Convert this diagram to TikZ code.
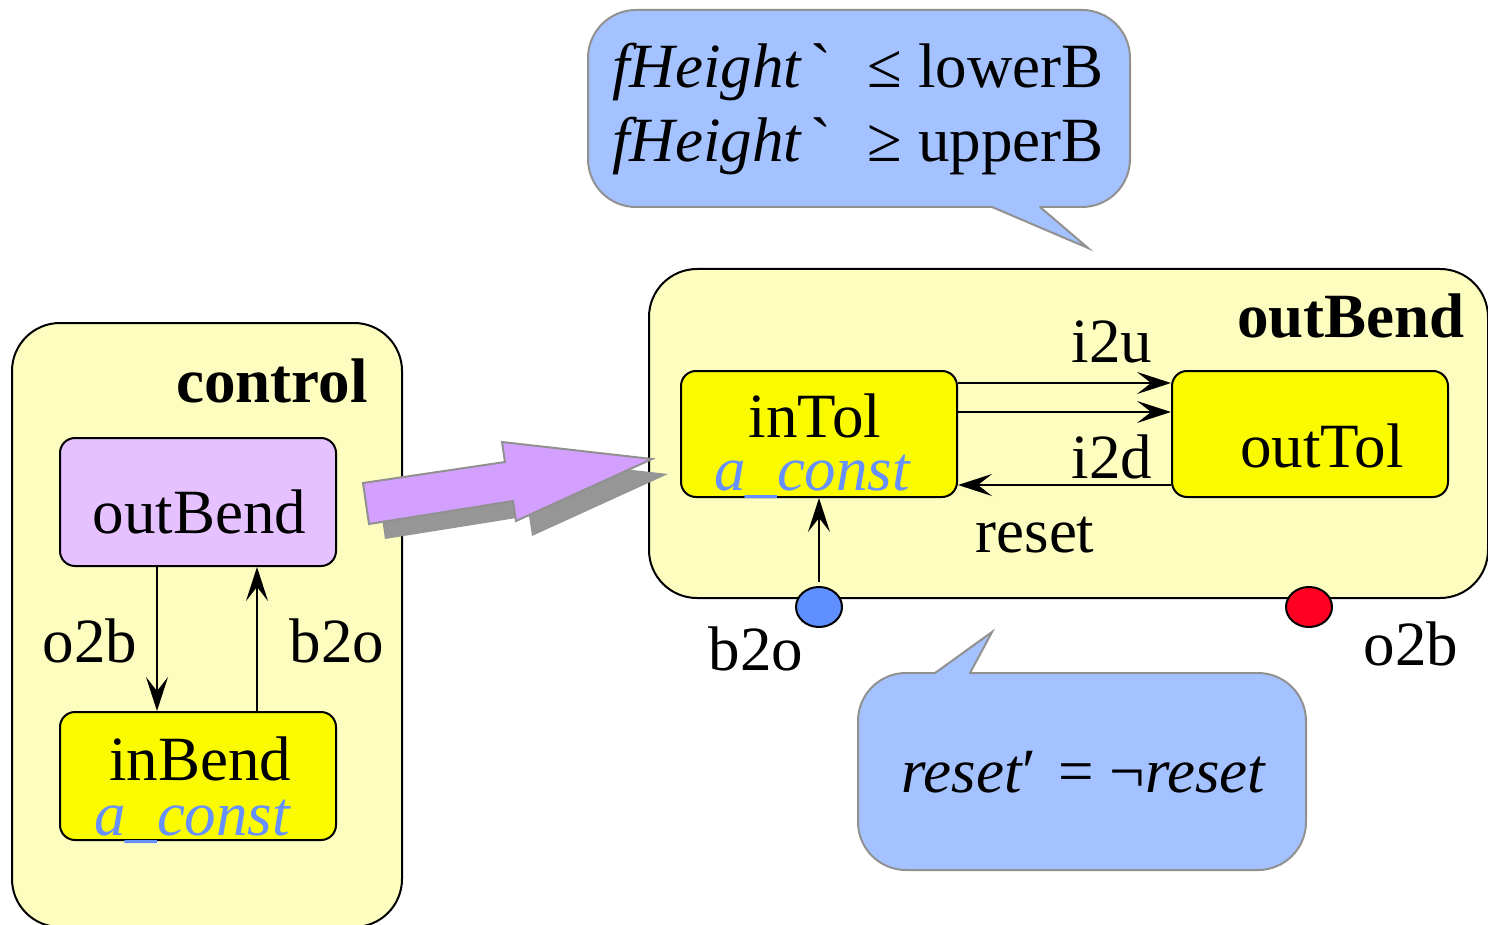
\documentclass[tikz,border=0pt]{standalone}
\usepackage{fontspec}
\setmainfont{Liberation Serif}[Ligatures=TeXOff]
\usetikzlibrary{arrows.meta,shapes.geometric,calc}

\definecolor{paleyellow}{RGB}{253,253,192}
\definecolor{stateyellow}{RGB}{250,250,0}
\definecolor{statepurple}{RGB}{229,193,255}
\definecolor{arrowpurple}{RGB}{212,160,255}
\definecolor{bubbleblue}{RGB}{164,194,255}
\definecolor{bubbleedge}{RGB}{145,145,145}
\definecolor{shadowgray}{RGB}{150,150,150}
\definecolor{constblue}{RGB}{102,144,255}
\definecolor{portblue}{RGB}{96,144,255}
\definecolor{portred}{RGB}{255,0,34}

\tikzset{
  txt/.style={font=\fontsize{31.5}{38}\selectfont, inner sep=0pt, anchor=base},
  boldtxt/.style={txt, font=\fontsize{31.5}{38}\selectfont\bfseries},
  consttxt/.style={txt, text=constblue, font=\fontsize{31.5}{38}\selectfont\itshape},
  superstate/.style={draw=black, line width=1pt, fill=paleyellow, rounded corners=24pt,
    inner sep=0pt, minimum width=#1},
  substate/.style={draw=black, line width=1pt, rounded corners=7.5pt, inner sep=0pt,
    minimum width=138pt},
  bubble/.style={draw=bubbleedge, line width=1pt, fill=bubbleblue, rounded corners=24pt,
    inner sep=0pt},
  port/.style={ellipse, draw=black, line width=1pt, inner sep=0pt,
    minimum width=23pt, minimum height=20pt},
  trans/.style={draw=black, line width=1pt,
    -{Stealth[length=17pt,width=11pt,inset=7pt]}},
}

\begin{document}
\begin{tikzpicture}[x=0.5pt,y=-0.5pt]
\useasboundingbox (0,0) rectangle (1488,925);

% ---------- left superstate: control ----------
\node[superstate=195pt, minimum height=302pt] (control) at (207,625) {};
\node[boldtxt, anchor=base east] (controlname) at (368,402) {control};

\node[substate, fill=statepurple, minimum height=64pt] (outB) at (198,502) {};
\node[txt] (outBtxt) at (199.5,533) {outBend};

\node[substate, fill=stateyellow, minimum height=64pt] (inB) at (198,776) {};
\node[txt] (inBtxt) at (200,780) {inBend};
\node[consttxt] (inBconst) at (192,835) {a\_const};

\coordinate (xo2b) at (157,0);
\coordinate (xb2o) at (257,0);
\draw[trans] (outB.south -| xo2b) -- (inB.north -| xo2b);
\draw[trans] (inB.north -| xb2o) -- (outB.south -| xb2o);
\node[txt] (lo2b) at (90,662) {o2b};
\node[txt] (lb2o) at (337,662) {b2o};

% ---------- right superstate: outBend ----------
\node[superstate=419.5pt, minimum height=164.5pt] (outBend) at (1068.5,433.5) {};
\node[boldtxt, anchor=base east] (outBendname) at (1465,337) {outBend};

\node[substate, fill=stateyellow, minimum height=63pt] (inTol) at (819,434) {};
\node[txt] (inToltxt) at (815,437) {inTol};
\node[consttxt] (inTolconst) at (812,490) {a\_const};

\node[substate, fill=stateyellow, minimum height=63pt] (outTol) at (1310,434) {};
\node[txt] (outToltxt) at (1322,467) {outTol};

\coordinate (yU) at (0,383);
\coordinate (yM) at (0,412);
\coordinate (yD) at (0,485);
\draw[trans] (inTol.east |- yU) -- (outTol.west |- yU);
\draw[trans] (inTol.east |- yM) -- (outTol.west |- yM);
\draw[trans] (outTol.west |- yD) -- (inTol.east |- yD);
\node[txt] (li2u) at (1112,362) {i2u};
\node[txt] (li2d) at (1112,478) {i2d};
\node[txt] (lreset) at (1035,552) {reset};

% ports on the lower border
\node[port, fill=portblue] (pb2o) at (819,607) {};
\node[port, fill=portred] (po2b) at (1309,607) {};
\draw[trans, shorten <=2pt] (pb2o.north) -- (inTol.south -| pb2o);
\node[txt] (lpb2o) at (756,670) {b2o};
\node[txt] (lpo2b) at (1411,665) {o2b};

% ---------- block arrow (refinement) with drop shadow ----------
\fill[shadowgray, shift={(16,15)}]
  (363,483) -- (505,462) -- (502,442) -- (652,459) -- (516,521) -- (513,501) -- (369,524) -- cycle;
\filldraw[fill=arrowpurple, draw=bubbleedge, line width=1pt, line join=miter]
  (363,483) -- (505,462) -- (502,442) -- (652,459) -- (516,521) -- (513,501) -- (369,524) -- cycle;

% ---------- speech bubbles ----------
\node[bubble, minimum width=271pt, minimum height=98.5pt] (guard) at (859,108.5) {};
\fill[bubbleblue] (993,200) -- (993,207) -- (1088,248) -- (1039,207) -- (1039,200) -- cycle;
\draw[bubbleedge, line width=1pt, line join=miter] (992,207) -- (1088,248) -- (1040,207);
\node[txt, anchor=base west] (g1) at (612,88)
  {\textit{fHeight}\kern4pt`\hspace{18pt}≤\hspace{8pt}lowerB};
\node[txt, anchor=base west] (g2) at (612,162)
  {\textit{fHeight}\kern4pt`\hspace{18pt}≥\hspace{8pt}upperB};

\node[bubble, minimum width=224pt, minimum height=98.5pt] (update) at (1082,771.5) {};
\fill[bubbleblue] (936,680) -- (936,673) -- (992,632) -- (969,673) -- (969,680) -- cycle;
\draw[bubbleedge, line width=1pt, line join=miter] (935,673) -- (992,632) -- (970,673);
\node[txt] (upd) at (1084,792) {\textit{reset}′\hspace{3pt} = ¬\textit{reset}};
\end{tikzpicture}
\end{document}
